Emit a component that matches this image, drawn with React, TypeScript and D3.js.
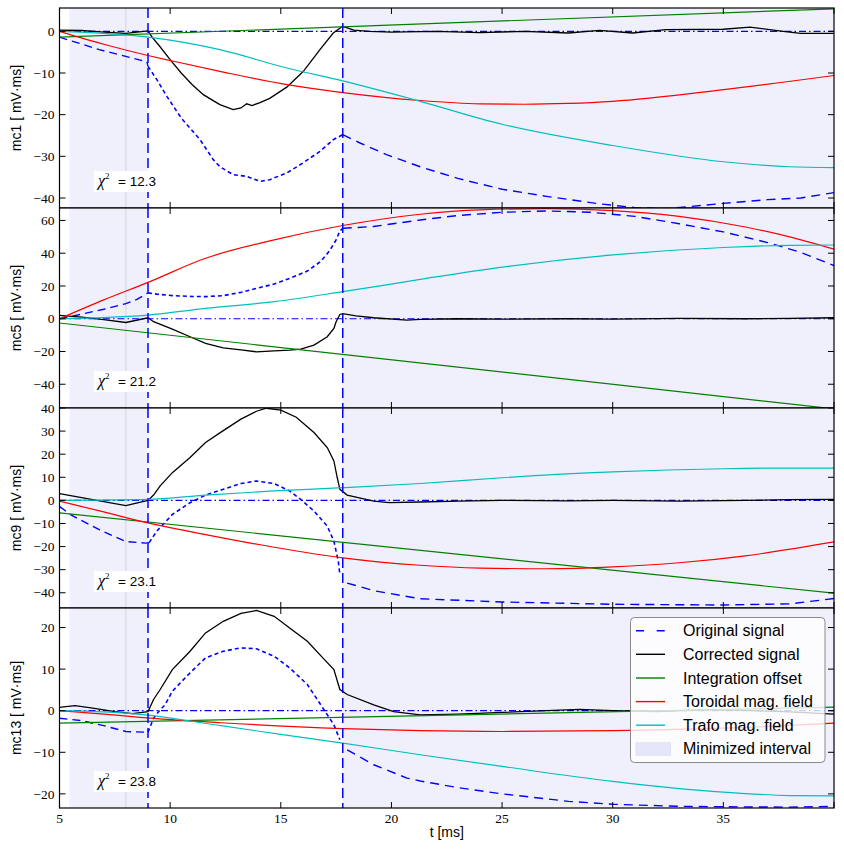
import React from 'react';
import * as d3 from 'd3';

type P = [number, number];

// ---------- data ----------
const panelNames = ['mc1', 'mc5', 'mc9', 'mc13'];
const chiValues = ['12.3', '21.2', '23.1', '23.8'];
const yDomains: [number, number][] = [[-42.4, 5.6], [-54.5, 67.6], [-46.6, 40], [-23.4, 24.7]];
const yTicks: number[][] = [
  [0, -10, -20, -30, -40],
  [60, 40, 20, 0, -20, -40],
  [40, 30, 20, 10, 0, -10, -20, -30, -40],
  [20, 10, 0, -10, -20],
];
const xDomain: [number, number] = [5, 40];
const xTicks = [5, 10, 15, 20, 25, 30, 35, 40];
const xTickLabels = ['5', '10', '15', '20', '25', '30', '35', ''];
const intervalStarts = [5.45, 17.8];
const intervalEnds = [9.0, 40];
const windowLines = [9.0, 17.8];
const markerLine = 8.0;
const legendLabels = ['Original signal', 'Corrected signal', 'Integration offset', 'Toroidal mag. field', 'Trafo mag. field', 'Minimized interval'];

// mc1
const mc1Original: P[] = [[5, -1.4], [6.8, -4.4], [8.95, -7.3], [9.0, -8.4], [9.4, -11.6], [9.85, -15.6], [10.5, -20.8], [11.35, -26], [11.95, -30.8], [12.25, -32.5], [12.85, -34.4], [13.46, -34.8], [14.06, -36], [14.5, -35.6], [15.27, -34], [16.0, -31.6], [16.77, -28.8], [17.37, -26], [17.8, -24.8], [18.58, -26.8], [19.78, -29.6], [21.3, -32.5], [23, -35.3], [25, -37.9], [27, -39.6], [29.4, -41.4], [31, -42.3], [32.4, -42.6], [35, -41.3], [37, -40.4], [38.5, -40], [40, -38.7]];
const mc1Corrected: P[] = [[5, 0.3], [6, 0.2], [7, -0.2], [8, -0.5], [8.5, -0.2], [9, 0.1], [9.2, -1.5], [9.5, -3.4], [10, -6.8], [10.5, -10], [11, -12.8], [11.5, -15.2], [12, -16.8], [12.25, -17.6], [12.85, -18.8], [13.2, -18.4], [13.46, -17.4], [13.7, -17.8], [14.06, -17.1], [14.5, -16.1], [15.27, -13.4], [16.02, -9.6], [16.77, -4.4], [17.37, -0.4], [17.8, 1.2], [18.3, 0.3], [19, 0], [20, -0.2], [22, 0], [24, -0.3], [26, 0], [28, -0.4], [29.4, 0.25], [30.9, -0.4], [32.4, 0.4], [35, 0.5], [36.2, 1], [37.7, 0], [38.5, -0.5], [40, -0.5]];
const mc1Offset: P[] = [[5, -1.4], [40, 5.4]];
const mc1Toroidal: P[] = [[5, 0], [7, -3.1], [9, -5.8], [10, -7], [12.25, -9.6], [15.27, -12.8], [17.8, -14.7], [21.3, -16.6], [24, -17.4], [26, -17.5], [28, -17.3], [30, -16.8], [35, -14], [40, -10.6]];
const mc1Trafo: P[] = [[5, 0], [7, -0.5], [9, -1.4], [12.25, -4.4], [15.27, -8.8], [17.8, -11.9], [21.3, -16.8], [25, -22.3], [30, -27.4], [35, -31.3], [38, -32.5], [40, -32.7]];

// mc5
const mc5Original: P[] = [[5, 0], [6, 2.8], [7, 5.8], [8, 9.2], [8.5, 11.8], [9, 15.8], [9.4, 15], [10.1, 14.1], [11, 13.6], [11.6, 13.5], [12.4, 14.1], [13.2, 16.1], [13.9, 18.5], [14.7, 21.2], [15.4, 24.6], [16.2, 29.1], [16.8, 34.9], [17.2, 41.4], [17.5, 48.1], [17.67, 53.6], [17.8, 55.2], [19.2, 56.3], [21.3, 60.3], [23, 63], [25, 65], [27, 65.8], [29, 65], [31, 62.5], [33, 58], [35, 53], [37, 46.5], [38.5, 40.5], [40, 32.5]];
const mc5Corrected: P[] = [[5, 2], [6, 1], [7, -0.5], [8, -2.3], [9, 0.6], [9.25, -1.8], [10.1, -6.3], [10.9, -11], [11.6, -15.1], [12.4, -17.8], [13.2, -19], [13.9, -20.2], [14.7, -19.6], [15.4, -19.2], [15.9, -18.6], [16.5, -16.1], [17.1, -11], [17.4, -5.9], [17.5, -1.8], [17.67, 2.6], [17.8, 3.1], [18.4, 1.8], [19.2, 0.6], [20.7, -0.8], [21.3, -0.4], [23, 0], [25, -0.3], [28, 0], [30, -0.2], [33, 0.2], [36, 0], [38, 0.2], [40, 0.6]];
const mc5Offset: P[] = [[5, -2.6], [40, -55]];
const mc5Toroidal: P[] = [[5, 0], [7, 11.5], [9, 22.2], [11.6, 36.9], [14.7, 48.1], [17.8, 56.9], [21.3, 63.8], [24, 66.5], [27, 67.2], [30, 66], [33, 62.5], [36, 56], [38, 50], [40, 42.5]];
const mc5Trafo: P[] = [[5, 0], [7, 0.7], [9, 2.2], [11.6, 6.3], [14.7, 10.4], [17.8, 16.5], [21.3, 24], [25, 31.5], [30, 39], [35, 43.5], [38, 44.8], [40, 45]];

// mc9
const mc9Original: P[] = [[5, -2.6], [5.5, -6.2], [6.8, -12.7], [8, -17.8], [8.9, -18.5], [9.05, -18.3], [9.4, -13.3], [10.1, -6.1], [10.9, -1], [11.6, 2.3], [12.4, 4.8], [13.2, 7.3], [13.9, 8.4], [14.7, 7.3], [15.4, 4.1], [15.9, 0.4], [16.5, -4.6], [17.1, -11.1], [17.4, -17.7], [17.6, -26.4], [17.67, -32.2], [18, -35.8], [19.2, -39.1], [20.7, -41.6], [21.3, -42.6], [25, -44], [30, -45], [35, -45.3], [38, -44.8], [40, -42.5]];
const mc9Corrected: P[] = [[5, 2.9], [6, 1.2], [7, -0.5], [8, -2.3], [9, 0], [9.25, 2.3], [9.55, 6.3], [10.1, 12], [10.9, 18.6], [11.6, 25.1], [12.4, 30.2], [13.2, 35.2], [13.9, 38.6], [14.35, 39.9], [15, 39.1], [15.7, 36], [16.5, 29.4], [17.1, 22.9], [17.4, 17.1], [17.55, 9.9], [17.67, 4.8], [18, 2.3], [19.2, -0.3], [19.9, -1], [21.3, -0.7], [23, -0.3], [25, 0], [28, -0.2], [30, 0], [33, -0.3], [36, 0], [38, 0.3], [40, 0.4]];
const mc9Offset: P[] = [[5, -5.4], [40, -40.2]];
const mc9Toroidal: P[] = [[5, -0.3], [7, -5], [8.64, -9], [11.6, -14.8], [14.7, -20.3], [17.8, -24.9], [21.3, -28.1], [24, -29.3], [27, -29.6], [30, -28.8], [33, -27], [36, -24], [40, -18]];
const mc9Trafo: P[] = [[5, 0], [9, 0.4], [11.6, 2.3], [14.7, 4.1], [17.8, 5.5], [21.3, 7.3], [25, 9.8], [30, 12.3], [35, 13.7], [38, 14], [40, 14]];

// mc13
const mc13Original: P[] = [[5, -1.8], [6, -2.4], [7, -3.6], [8, -5], [9, -5.2], [9.25, -1.8], [9.55, 0.25], [9.77, 1.4], [10.1, 4.7], [10.9, 9.1], [11.6, 12.7], [12.4, 14.3], [13.2, 15.1], [13.9, 14.9], [14.7, 13.1], [15.4, 10.3], [16.2, 6.3], [16.9, 0.65], [17.4, -3.4], [17.67, -7], [18, -9.4], [19.2, -13], [20.7, -16.2], [21.3, -16.9], [23, -18.5], [25, -20], [28, -21.8], [30, -22.5], [33, -23], [35, -23.1], [38, -23.2], [40, -23]];
const mc13Corrected: P[] = [[5, 0.8], [5.7, 1.2], [6.5, 0.6], [7.5, -0.2], [8.3, -0.7], [9, -0.2], [9.25, 2.7], [9.55, 5.1], [10.1, 9.9], [10.9, 14.3], [11.6, 18.7], [12.4, 21.5], [13.2, 23.4], [13.9, 24.1], [14.7, 22.7], [15.4, 19.9], [16.2, 16.7], [16.9, 12.7], [17.4, 9.9], [17.67, 5.1], [18, 3.9], [19.2, 1.4], [20.1, -0.2], [21.3, -1], [23, -0.8], [25, -0.4], [27, 0], [28.5, 0.3], [30, 0], [32, -0.2], [34, 0.2], [36, 0.1], [38, -0.3], [40, -0.8]];
const mc13Offset: P[] = [[5, -3], [40, 0.85]];
const mc13Toroidal: P[] = [[5, 0], [7, -0.8], [8.64, -1.6], [12.3, -2.9], [17.8, -4.3], [21.3, -4.8], [25, -5], [30, -4.8], [35, -4.2], [40, -3]];
const mc13Trafo: P[] = [[5, 0], [7, -0.3], [8.64, -0.9], [12.3, -3.6], [15, -5.7], [17.8, -7.8], [21.3, -10.6], [25, -13.4], [30, -17], [35, -19.6], [38, -20.4], [40, -20.5]];

const originals = [mc1Original, mc5Original, mc9Original, mc13Original];
const correcteds = [mc1Corrected, mc5Corrected, mc9Corrected, mc13Corrected];
const offsets = [mc1Offset, mc5Offset, mc9Offset, mc13Offset];
const toroidals = [mc1Toroidal, mc5Toroidal, mc9Toroidal, mc13Toroidal];
const trafos = [mc1Trafo, mc5Trafo, mc9Trafo, mc13Trafo];

// ---------- layout / style ----------
const W = 844, H = 853;
const LEFT = 59.5, RIGHT = 834, TOP = 8, PH = 200;
const C = { blue: '#0000ff', black: '#000000', green: '#008000', red: '#ff0000', cyan: '#00bfbf', span: '#f0f0fc', patch: '#e6e6fa' };
const SERIF = '"Liberation Serif", "DejaVu Serif", serif';
const SANS = '"Liberation Sans", Arial, sans-serif';
const TICK = 6;

export default function App() {
  const x = d3.scaleLinear().domain(xDomain).range([LEFT, RIGHT]);

  const panels = panelNames.map((name, i) => {
    const pTop = TOP + i * PH;
    const y = d3.scaleLinear().domain(yDomains[i]).range([pTop + PH, pTop]);
    const lin = d3.line<P>().x(d => x(d[0])).y(d => y(d[1]));
    const smooth = d3.line<P>().x(d => x(d[0])).y(d => y(d[1])).curve(d3.curveMonotoneX);
    const orig = originals[i];
    const segA = orig.filter(d => d[0] <= windowLines[0] + 0.06);
    const segB = orig.filter(d => d[0] >= windowLines[0] - 0.01 && d[0] <= windowLines[1] + 0.01);
    const segC = orig.filter(d => d[0] >= windowLines[1] - 0.01);
    const clipId = `clip${i}`;
    return (
      <g key={name}>
        <defs>
          <clipPath id={clipId}>
            <rect x={LEFT} y={pTop} width={RIGHT - LEFT} height={PH} />
          </clipPath>
        </defs>
        <rect x={LEFT} y={pTop} width={RIGHT - LEFT} height={PH} fill="#ffffff" />
        <g clipPath={`url(#${clipId})`}>
          {intervalStarts.map((s, k) => (
            <rect key={k} x={x(s)} y={pTop} width={x(intervalEnds[k]) - x(s)} height={PH} fill={C.span} />
          ))}
          <line x1={x(markerLine)} x2={x(markerLine)} y1={pTop} y2={pTop + PH} stroke="#d2d2de" strokeWidth={1} />
          <line x1={x(xDomain[0])} x2={x(xDomain[1])} y1={y(0)} y2={y(0)} stroke={C.blue} strokeWidth={1.2} strokeDasharray="7,3,1.5,3" />
          <path d={lin(segA) || ''} fill="none" stroke={C.blue} strokeWidth={1.4} strokeDasharray="8,5" />
          <path d={lin(segB) || ''} fill="none" stroke={C.blue} strokeWidth={1.6} strokeDasharray="4,3" />
          <path d={lin(segC) || ''} fill="none" stroke={C.blue} strokeWidth={1.4} strokeDasharray="9,6" />
          <path d={lin(correcteds[i]) || ''} fill="none" stroke={C.black} strokeWidth={1.3} />
          <path d={lin(offsets[i]) || ''} fill="none" stroke={C.green} strokeWidth={1.2} />
          <path d={smooth(toroidals[i]) || ''} fill="none" stroke={C.red} strokeWidth={1.2} />
          <path d={smooth(trafos[i]) || ''} fill="none" stroke={C.cyan} strokeWidth={1.2} />
          {windowLines.map((t, k) => (
            <line key={k} x1={x(t)} x2={x(t)} y1={pTop} y2={pTop + PH} stroke={C.blue} strokeWidth={1.5} strokeDasharray="10,5" />
          ))}
          <rect x={94} y={pTop + 163} width={61} height={21} fill="#ffffff" />
        </g>
        <text x={98} y={pTop + 178} fontSize={15}>
          <tspan fontFamily={SERIF} fontStyle="italic" fontSize={16}>χ</tspan>
          <tspan fontFamily={SERIF} fontSize={9} dy={-7}>2</tspan>
          <tspan x={118} dy={7} fontFamily={SANS} fontSize={13.5}>= {chiValues[i]}</tspan>
        </text>
        {/* frame */}
        <rect x={LEFT} y={pTop} width={RIGHT - LEFT} height={PH} fill="none" stroke="#000" strokeWidth={1.2} />
        {/* y ticks */}
        {yTicks[i].map(v => (
          <g key={v}>
            <line x1={LEFT} x2={LEFT + TICK} y1={y(v)} y2={y(v)} stroke="#000" strokeWidth={1} />
            <line x1={RIGHT} x2={RIGHT - TICK} y1={y(v)} y2={y(v)} stroke="#000" strokeWidth={1} />
            <text x={LEFT - 5} y={y(v)} dy="0.35em" textAnchor="end" fontFamily={SERIF} fontSize={13.5}>
              {v < 0 ? `\u2212${Math.abs(v)}` : `${v}`}
            </text>
          </g>
        ))}
        {/* x ticks */}
        {xTicks.map(t => (
          <g key={t}>
            <line x1={x(t)} x2={x(t)} y1={pTop + PH} y2={pTop + PH - TICK} stroke="#000" strokeWidth={1} />
            <line x1={x(t)} x2={x(t)} y1={pTop} y2={pTop + TICK} stroke="#000" strokeWidth={1} />
          </g>
        ))}
        <text transform={`translate(20.5,${pTop + PH / 2}) rotate(-90)`} textAnchor="middle" fontFamily={SANS} fontSize={14}>
          {`${name} [ mV\u00b7ms]`}
        </text>
      </g>
    );
  });

  const bottom = TOP + 4 * PH;
  const legendRows = [630.7, 654.3, 678, 701.6, 725.2, 748.8];
  const legendStyles = [
    { stroke: C.blue, dash: '8,12.7' },
    { stroke: C.black, dash: '' },
    { stroke: C.green, dash: '' },
    { stroke: C.red, dash: '' },
    { stroke: C.cyan, dash: '' },
  ];

  return (
    <svg width={W} height={H} style={{ position: 'absolute', left: 0, top: 0, background: '#fff' }}>
      <rect x={0} y={0} width={W} height={H} fill="#ffffff" />
      {panels}
      {xTicks.map((t, k) => (
        <text key={t} x={x(t)} y={bottom + 15} textAnchor="middle" fontFamily={SERIF} fontSize={13.5}>
          {xTickLabels[k]}
        </text>
      ))}
      <text x={(LEFT + RIGHT) / 2} y={bottom + 29} textAnchor="middle" fontFamily={SANS} fontSize={14}>t [ms]</text>
      {/* legend */}
      <g>
        <rect x={630.5} y={617.5} width={194.5} height={145} rx={4} fill="#ffffff" fillOpacity={0.8} stroke="#8a8a8a" strokeWidth={1} />
        {legendLabels.map((lab, k) => (
          <g key={lab}>
            {k < 5 ? (
              <line x1={636} x2={665} y1={legendRows[k]} y2={legendRows[k]} stroke={legendStyles[k].stroke} strokeWidth={1.4} strokeDasharray={legendStyles[k].dash || undefined} />
            ) : (
              <rect x={636} y={legendRows[k] - 6} width={34.5} height={12.4} fill={C.patch} stroke="#dcdcf0" strokeWidth={0.8} />
            )}
            <text x={683} y={legendRows[k] + 5.5} fontFamily={SANS} fontSize={16}>{lab}</text>
          </g>
        ))}
      </g>
    </svg>
  );
}
